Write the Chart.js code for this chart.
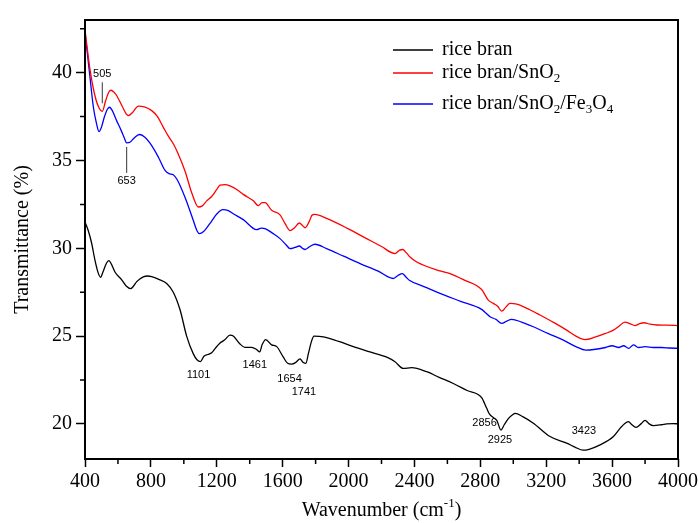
<!DOCTYPE html>
<html>
<head>
<meta charset="utf-8">
<title>FTIR spectra</title>
<script src="https://cdn.jsdelivr.net/npm/chart.js@4.4.1/dist/chart.umd.min.js"></script>
<style>
  html, body { margin: 0; padding: 0; background: #fff; }
  #wrap { width: 699px; height: 523px; }
</style>
</head>
<body>
<div id="wrap"><canvas id="ftirChart" width="699" height="523"></canvas></div>
<script>
//************************************   DATA    ****************************************** */
const seriesNames = ['rice bran', 'rice bran/SnO2', 'rice bran/SnO2/Fe3O4'];

const riceBranX = [400, 420, 440, 461, 480, 495, 509, 530, 545, 565, 582, 623, 650, 677, 695, 714, 754, 780, 805, 855,
  896, 936, 977, 1017, 1057, 1080, 1101, 1122, 1145, 1169, 1195, 1220, 1250, 1280, 1300, 1341, 1371, 1412, 1440, 1461,
  1475, 1497, 1533, 1564, 1604, 1630, 1654, 1680, 1705, 1725, 1741, 1756, 1775, 1790, 1847, 1940, 2029, 2130, 2232, 2282,
  2332, 2383, 2474, 2550, 2636, 2720, 2808, 2838, 2856, 2880, 2900, 2925, 2945, 2970, 3000, 3011, 3060, 3122, 3223, 3324,
  3380, 3423, 3460, 3527, 3608, 3658, 3699, 3720, 3745, 3775, 3800, 3825, 3850, 3900, 3931, 3970, 4000];
const riceBranY = [31.5, 31.0, 30.3, 29.3, 28.6, 28.35, 28.65, 29.15, 29.3, 29.0, 28.65, 28.2, 27.85, 27.7, 27.85, 28.1, 28.37, 28.42, 28.38, 28.2,
  28.0, 27.5, 26.5, 25.0, 24.0, 23.65, 23.55, 23.85, 23.95, 24.05, 24.35, 24.6, 24.8, 25.05, 25.0, 24.55, 24.36, 24.36, 24.25, 24.1,
  24.5, 24.8, 24.5, 24.4, 23.8, 23.45, 23.4, 23.5, 23.7, 23.5, 23.45, 24.0, 24.7, 25.0, 24.96, 24.7, 24.4, 24.1, 23.8, 23.54,
  23.16, 23.2, 22.97, 22.65, 22.3, 21.9, 21.5, 20.9, 20.55, 20.35, 20.2, 19.65, 19.95, 20.3, 20.55, 20.6, 20.4, 20.04, 19.28, 18.9,
  18.65, 18.5, 18.55, 18.8, 19.28, 19.85, 20.13, 19.95, 19.8, 20.0, 20.2, 20.0, 19.9, 19.95, 20.0, 20.02, 20.0];

const snoX = [400, 430, 455, 480, 505, 525, 545, 558, 575, 592, 625, 650, 663, 690, 724, 760, 805, 840, 875, 905,
  936, 960, 1007, 1050, 1088, 1110, 1139, 1169, 1200, 1220, 1250, 1280, 1321, 1361, 1422, 1452, 1475, 1493, 1533, 1584,
  1615, 1645, 1670, 1701, 1720, 1736, 1760, 1780, 1796, 1867, 1990, 2110, 2200, 2282, 2310, 2329, 2350, 2373, 2414, 2555,
  2616, 2700, 2808, 2848, 2879, 2905, 2930, 2955, 2980, 3021, 3100, 3162, 3250, 3324, 3380, 3435, 3500, 3560, 3608, 3640,
  3678, 3710, 3739, 3765, 3794, 3830, 3871, 3930, 4000];
const snoY = [42.43, 40.2, 38.9, 38.1, 37.8, 38.4, 38.9, 39.0, 38.9, 38.7, 38.1, 37.65, 37.56, 37.75, 38.1, 38.05, 37.84, 37.5, 36.9, 36.4,
  35.95, 35.5, 34.4, 33.1, 32.35, 32.4, 32.7, 32.95, 33.35, 33.6, 33.62, 33.55, 33.35, 33.07, 32.7, 32.43, 32.6, 32.6, 32.16, 31.9,
  31.4, 31.0, 31.15, 31.44, 31.3, 31.17, 31.5, 31.9, 31.93, 31.7, 31.15, 30.55, 30.1, 29.7, 29.9, 29.93, 29.75, 29.5, 29.22, 28.71,
  28.56, 28.2, 27.65, 27.05, 26.86, 26.7, 26.42, 26.65, 26.86, 26.82, 26.5, 26.2, 25.75, 25.34, 25.0, 24.8, 24.95, 25.15, 25.34, 25.55,
  25.8, 25.7, 25.6, 25.7, 25.76, 25.68, 25.63, 25.62, 25.6];

const snoFeX = [400, 425, 451, 470, 485, 500, 517, 535, 548, 565, 592, 620, 640, 653, 675, 700, 730, 760, 805, 845,
  886, 910, 936, 960, 1007, 1057, 1080, 1094, 1120, 1169, 1200, 1236, 1270, 1300, 1361, 1442, 1470, 1493, 1540, 1584,
  1620, 1645, 1675, 1701, 1720, 1736, 1765, 1796, 1867, 1970, 2070, 2180, 2272, 2300, 2326, 2350, 2369, 2450, 2555, 2680,
  2808, 2835, 2859, 2895, 2930, 2960, 2990, 3050, 3122, 3210, 3304, 3380, 3440, 3500, 3560, 3600, 3640, 3670, 3700, 3730,
  3760, 3800, 3850, 3900, 3950, 4000];
const snoFeY = [42.3, 40.2, 38.03, 37.1, 36.65, 36.9, 37.46, 37.9, 38.03, 37.85, 37.27, 36.7, 36.25, 36.0, 36.05, 36.3, 36.48, 36.35, 35.85, 35.2,
  34.43, 34.25, 34.19, 33.9, 32.9, 31.6, 31.0, 30.83, 30.95, 31.55, 31.95, 32.2, 32.15, 31.97, 31.63, 31.06, 31.15, 31.12, 30.85, 30.55,
  30.2, 29.98, 30.05, 30.13, 30.0, 29.93, 30.1, 30.23, 29.98, 29.55, 29.13, 28.7, 28.28, 28.45, 28.56, 28.35, 28.18, 27.85, 27.43, 26.98,
  26.52, 26.3, 26.1, 25.95, 25.72, 25.85, 25.95, 25.8, 25.53, 25.15, 24.77, 24.4, 24.2, 24.25, 24.35, 24.45, 24.35, 24.45, 24.3, 24.5,
  24.35, 24.4, 24.35, 24.35, 24.32, 24.3];

const xTicks = [400, 800, 1200, 1600, 2000, 2400, 2800, 3200, 3600, 4000];
const yTicks = [20, 25, 30, 35, 40];

// peak labels: wavenumber and the series it belongs to (0 black, 1 red, 2 blue)
const peakLabels = [505, 653, 1101, 1461, 1654, 1741, 2856, 2925, 3423];
const peakSeries = [1, 2, 0, 0, 0, 0, 0, 0, 0];

//************************************   STYLE    ****************************************** */
const serif = '"Liberation Serif", "Times New Roman", serif';
const sans = '"Liberation Sans", Arial, sans-serif';
const lineColors = ['#000000', '#ff0000', '#0000ff'];

// pixel offsets of each peak label from its point, plus optional leader line span
const peakOffsets = {
  505:  {dx: 0,  dy: -37, lead: [-8, -29]},
  653:  {dx: 0,  dy: 38,  lead: [4, 30]},
  1101: {dx: -2, dy: 13},
  1461: {dx: -5, dy: 13},
  1654: {dx: -2, dy: 15},
  1741: {dx: -2, dy: 29},
  2856: {dx: -5, dy: 9},
  2925: {dx: -1, dy: 10},
  3423: {dx: 1,  dy: -19}
};

const seriesX = [riceBranX, snoX, snoFeX];
const seriesY = [riceBranY, snoY, snoFeY];

function toPoints(xs, ys) {
  return xs.map((x, i) => ({x: x, y: ys[i]}));
}

// draws text made of pieces, some of them sub- or superscript
function drawRich(ctx, parts, x, y, size, align) {
  const small = Math.round(size * 0.65);
  let total = 0;
  parts.forEach(p => {
    ctx.font = (p.sub || p.sup ? small : size) + 'px ' + serif;
    p.w = ctx.measureText(p.t).width;
    total += p.w;
  });
  let cx = align === 'center' ? x - total / 2 : x;
  ctx.textAlign = 'left';
  ctx.textBaseline = 'middle';
  parts.forEach(p => {
    ctx.font = (p.sub || p.sup ? small : size) + 'px ' + serif;
    let dy = 0;
    if (p.sub) dy = size * 0.3;
    if (p.sup) dy = -size * 0.35;
    ctx.fillText(p.t, cx, y + dy);
    cx += p.w;
  });
}

const legendParts = [
  [{t: 'rice bran'}],
  [{t: 'rice bran/SnO'}, {t: '2', sub: true}],
  [{t: 'rice bran/SnO'}, {t: '2', sub: true}, {t: '/Fe'}, {t: '3', sub: true}, {t: 'O'}, {t: '4', sub: true}]
];

// frame, minor ticks, titles, legend and peak labels
const decorations = {
  id: 'decorations',
  afterDraw(chart) {
    const ctx = chart.ctx;
    const area = chart.chartArea;
    const xs = chart.scales.x;
    const ys = chart.scales.y;
    ctx.save();

    // frame
    ctx.strokeStyle = '#000';
    ctx.lineWidth = 2;
    ctx.strokeRect(area.left, area.top, area.right - area.left, area.bottom - area.top);

    // minor ticks
    ctx.lineWidth = 1.5;
    ctx.beginPath();
    for (let v = 600; v < 4000; v += 400) {
      const px = xs.getPixelForValue(v);
      ctx.moveTo(px, area.bottom);
      ctx.lineTo(px, area.bottom + 5);
    }
    for (let v = 22.5; v < ys.max; v += 5) {
      const py = ys.getPixelForValue(v);
      ctx.moveTo(area.left, py);
      ctx.lineTo(area.left - 5, py);
    }
    ctx.stroke();

    // axis titles
    ctx.fillStyle = '#000';
    drawRich(ctx, [{t: 'Wavenumber (cm'}, {t: '-1', sup: true}, {t: ')'}],
      (area.left + area.right) / 2, 511, 20, 'center');
    ctx.save();
    ctx.translate(23, (area.top + area.bottom) / 2);
    ctx.rotate(-Math.PI / 2);
    ctx.font = '20px ' + serif;
    ctx.textAlign = 'center';
    ctx.textBaseline = 'middle';
    ctx.fillText('Transmittance (%)', 0, 0);
    ctx.restore();

    // legend
    const legendY = [30, 53, 84];
    legendParts.forEach((parts, i) => {
      const ly = area.top + legendY[i];
      ctx.strokeStyle = lineColors[i];
      ctx.lineWidth = 1.3;
      ctx.beginPath();
      ctx.moveTo(area.left + 308, ly);
      ctx.lineTo(area.left + 348, ly);
      ctx.stroke();
      drawRich(ctx, parts, area.left + 357, ly, 20, 'left');
    });

    // peak labels
    ctx.font = '11px ' + sans;
    ctx.textAlign = 'center';
    ctx.textBaseline = 'middle';
    ctx.strokeStyle = '#000';
    ctx.lineWidth = 0.8;
    peakLabels.forEach((wn, i) => {
      const s = peakSeries[i];
      const idx = seriesX[s].indexOf(wn);
      const px = xs.getPixelForValue(wn);
      const py = ys.getPixelForValue(seriesY[s][idx]);
      const off = peakOffsets[wn];
      ctx.fillText(String(wn), px + off.dx, py + off.dy);
      if (off.lead) {
        ctx.beginPath();
        ctx.moveTo(px, py + off.lead[0]);
        ctx.lineTo(px, py + off.lead[1]);
        ctx.stroke();
      }
    });

    ctx.restore();
  }
};

const datasets = seriesNames.map((name, i) => ({
  label: name,
  data: toPoints(seriesX[i], seriesY[i]),
  borderColor: lineColors[i],
  borderWidth: 1.3,
  pointRadius: 0,
  fill: false,
  cubicInterpolationMode: 'monotone'
}));

const tickFont = {family: serif, size: 20};

const ftirChart = new Chart(document.getElementById('ftirChart').getContext('2d'), {
  type: 'line',
  data: {datasets: datasets},
  options: {
    responsive: false,
    animation: false,
    devicePixelRatio: 1,
    layout: {padding: {left: 0, top: 20, right: 21, bottom: 0}},
    plugins: {legend: {display: false}, tooltip: {enabled: false}},
    scales: {
      x: {
        type: 'linear',
        min: 400,
        max: 4000,
        afterBuildTicks(scale) { scale.ticks = xTicks.map(v => ({value: v})); },
        afterFit(scale) {
          scale.height = 64;
          scale.paddingLeft = 0;
          scale.paddingRight = 0;
        },
        ticks: {
          font: tickFont, color: '#000', padding: 3, maxRotation: 0, autoSkip: false,
          callback: v => String(v)
        },
        grid: {drawOnChartArea: false, tickLength: 8, tickColor: '#000', tickWidth: 1.5},
        border: {display: false}
      },
      y: {
        type: 'linear',
        min: 18,
        max: 43,
        afterBuildTicks(scale) { scale.ticks = yTicks.map(v => ({value: v})); },
        afterFit(scale) {
          scale.width = 85;
          scale.paddingTop = 0;
          scale.paddingBottom = 0;
        },
        ticks: {font: tickFont, color: '#000', padding: 4, callback: v => String(v)},
        grid: {drawOnChartArea: false, tickLength: 9, tickColor: '#000', tickWidth: 1.5},
        border: {display: false}
      }
    }
  },
  plugins: [decorations]
});
</script>
</body>
</html>
